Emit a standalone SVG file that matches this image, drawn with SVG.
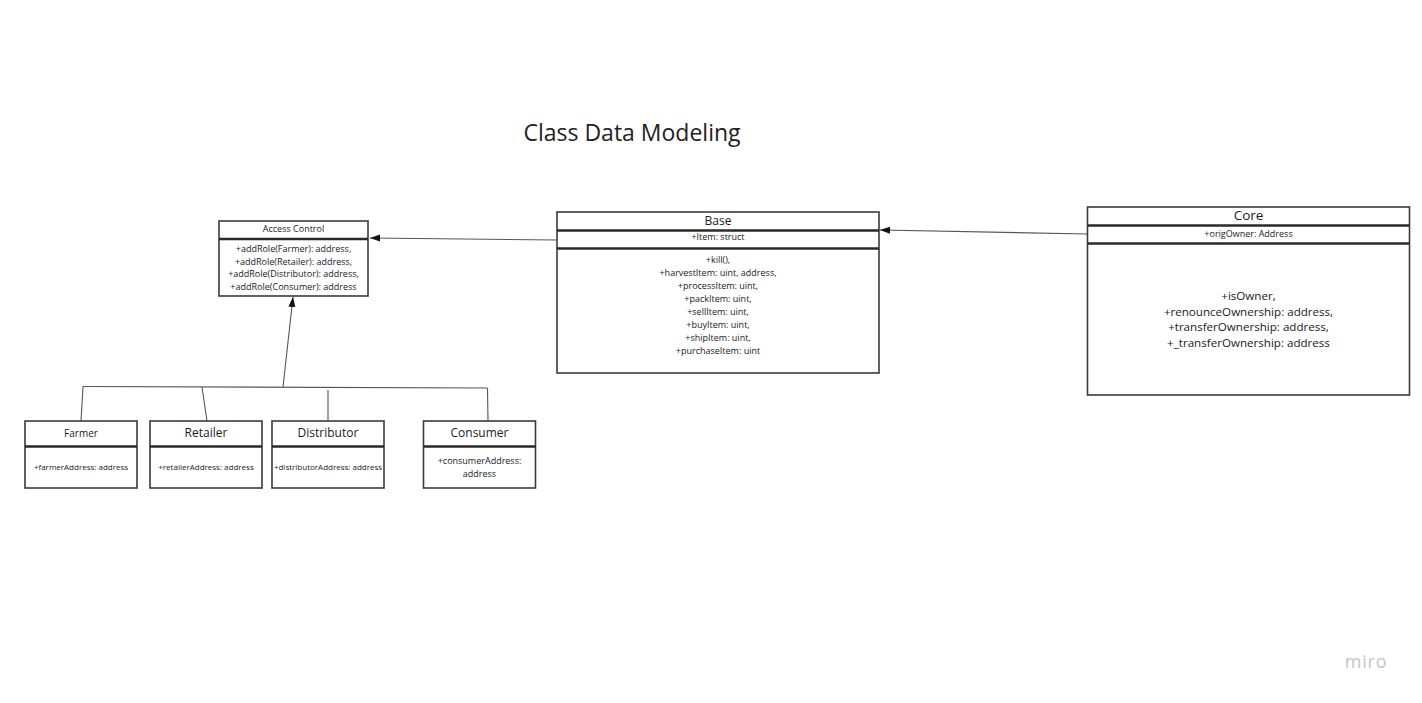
<svg xmlns="http://www.w3.org/2000/svg" width="1422" height="703" viewBox="0 0 1422 703">
<defs>
<style>
text{font-family:"Open Sans","Noto Sans","Liberation Sans",sans-serif;fill:#1a1a1a;text-anchor:middle}
.box{fill:#fff;stroke:#3a3a3a;stroke-width:1.6}
.div{stroke:#2a2a2a;stroke-width:2.6}
.con{fill:none;stroke:#555;stroke-width:1.1}
.s8{font-size:8px}.s9{font-size:9px}.s10{font-size:10px}.s12{font-size:12px}.s11{font-size:11.6px}
</style>
<marker id="arr" viewBox="0 0 10 10" refX="10" refY="5" markerWidth="10" markerHeight="10" markerUnits="userSpaceOnUse" orient="auto">
<path d="M0,1.5 L10,5 L0,8.5 z" fill="#111"/>
</marker>
</defs>
<rect width="1422" height="703" fill="#fff"/>
<text x="632" y="141" style="font-size:23px;fill:#222">Class Data Modeling</text>

<g id="connectors">
<line class="con" x1="556" y1="240" x2="370" y2="238" marker-end="url(#arr)"/>
<line class="con" x1="1087" y1="234" x2="880" y2="230" marker-end="url(#arr)"/>
<line class="con" x1="83" y1="386.5" x2="487" y2="388"/>
<line class="con" x1="283" y1="387" x2="293" y2="297" marker-end="url(#arr)"/>
<line class="con" x1="83" y1="386.5" x2="81" y2="421"/>
<line class="con" x1="202" y1="387" x2="207" y2="421"/>
<line class="con" x1="328" y1="390" x2="328" y2="421"/>
<line class="con" x1="487.5" y1="388" x2="488" y2="421"/>
</g>

<g id="access-control">
<rect class="box" x="219" y="221" width="149" height="75"/>
<line class="div" x1="219" y1="239" x2="368" y2="239"/>
<text class="s9" x="293.5" y="232">Access Control</text>
<text class="s9" x="293.5" y="252">+addRole(Farmer): address,</text>
<text class="s9" x="293.5" y="264.5">+addRole(Retailer): address,</text>
<text class="s9" x="293.5" y="277">+addRole(Distributor): address,</text>
<text class="s9" x="293.5" y="289.5">+addRole(Consumer): address</text>
</g>

<g id="base">
<rect class="box" x="557" y="212" width="322" height="161"/>
<line class="div" x1="557" y1="230.5" x2="879" y2="230.5"/>
<line class="div" x1="557" y1="248.5" x2="879" y2="248.5"/>
<text class="s12" x="718" y="224.5">Base</text>
<text class="s9" x="718" y="240">+Item: struct</text>
<text class="s9" x="718" y="263">+kill(),</text>
<text class="s9" x="718" y="276">+harvestItem: uint, address,</text>
<text class="s9" x="718" y="289">+processItem: uint,</text>
<text class="s9" x="718" y="302">+packItem: uint,</text>
<text class="s9" x="718" y="315">+sellItem: uint,</text>
<text class="s9" x="718" y="328">+buyItem: uint,</text>
<text class="s9" x="718" y="341">+shipItem: uint,</text>
<text class="s9" x="718" y="354">+purchaseItem: uint</text>
</g>

<g id="core">
<rect class="box" x="1087.5" y="207" width="322" height="188"/>
<line class="div" x1="1087.5" y1="225.5" x2="1409.5" y2="225.5"/>
<line class="div" x1="1087.5" y1="243.5" x2="1409.5" y2="243.5"/>
<text x="1248.5" y="220" style="font-size:13.5px">Core</text>
<text class="s9" x="1248.5" y="236.5">+origOwner: Address</text>
<text class="s11" x="1248.5" y="300">+isOwner,</text>
<text class="s11" x="1248.5" y="315.5">+renounceOwnership: address,</text>
<text class="s11" x="1248.5" y="331">+transferOwnership: address,</text>
<text class="s11" x="1248.5" y="346.5">+_transferOwnership: address</text>
</g>

<g id="farmer">
<rect class="box" x="25" y="421" width="112" height="67"/>
<line class="div" x1="25" y1="446.5" x2="137" y2="446.5"/>
<text class="s10" x="81" y="436.5">Farmer</text>
<text class="s8" x="81" y="470">+farmerAddress: address</text>
</g>

<g id="retailer">
<rect class="box" x="150" y="421" width="112" height="67"/>
<line class="div" x1="150" y1="446.5" x2="262" y2="446.5"/>
<text class="s12" x="206" y="437">Retailer</text>
<text class="s8" x="206" y="470">+retailerAddress: address</text>
</g>

<g id="distributor">
<rect class="box" x="272" y="421" width="112" height="67"/>
<line class="div" x1="272" y1="446.5" x2="384" y2="446.5"/>
<text class="s12" x="328" y="437">Distributor</text>
<text class="s8" x="328" y="470">+distributorAddress: address</text>
</g>

<g id="consumer">
<rect class="box" x="423.5" y="421" width="112" height="67"/>
<line class="div" x1="423.5" y1="446.5" x2="535.5" y2="446.5"/>
<text class="s12" x="479.5" y="437">Consumer</text>
<text class="s9" x="479.5" y="464">+consumerAddress:</text>
<text class="s9" x="479.5" y="477">address</text>
</g>

<text x="1366" y="668" style="font-size:18px;fill:#c4c4c8;letter-spacing:0.8px">miro</text>
</svg>
